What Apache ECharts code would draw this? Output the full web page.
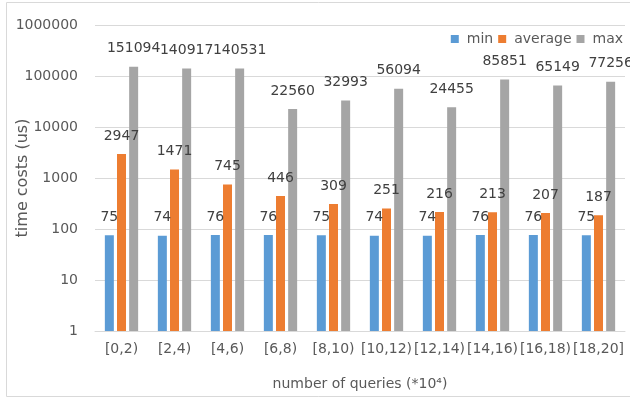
<!DOCTYPE html>
<html><head><meta charset="utf-8">
<script src="https://cdn.jsdelivr.net/npm/echarts@6/dist/echarts.min.js"></script>
<style>html,body{margin:0;padding:0;background:#fff}#c{width:630px;height:401px}</style>
</head><body><div id="c"></div>
<script>
const categories = ['[0,2)','[2,4)','[4,6)','[6,8)','[8,10)','[10,12)','[12,14)','[14,16)','[16,18)','[18,20]'];
const minValues = [75,74,76,76,75,74,74,76,76,75];
const avgValues = [2947,1471,745,446,309,251,216,213,207,187];
const maxValues = [151094,140917,140531,22560,32993,56094,24455,85851,65149,77256];
const font = '"DejaVu Sans", sans-serif';
const chart = echarts.init(document.getElementById('c'), null, {renderer:'canvas'});
const lbl = {show:true, position:'top', distance:11, color:'#404040', fontSize:14, fontFamily:font};
chart.setOption({
  animation:false,
  textStyle:{fontFamily:font},
  graphic:[{type:'rect', shape:{x:6.5,y:2.5,width:640,height:394}, style:{fill:'none', stroke:'#d9d9d9', lineWidth:1}, z:-1}],
  grid:{left:95, right:5, top:25, bottom:70, outerBoundsMode:'none', containLabel:false},
  legend:{top:27, right:2, itemWidth:8, itemHeight:8, itemGap:5, icon:'rect',
    textStyle:{color:'#595959', fontSize:14, fontFamily:font, padding:[0,0,0,3]},
    data:['min','average','max']},
  xAxis:{type:'category', data:categories,
    axisLine:{lineStyle:{color:'#d9d9d9'}}, axisTick:{show:false},
    axisLabel:{color:'#595959', fontSize:14, margin:11, interval:0, fontFamily:font},
    name:'number of queries (*10⁴)', nameLocation:'middle', nameGap:46, nameMoveOverlap:false,
    nameTextStyle:{color:'#595959', fontSize:14, fontFamily:font}},
  yAxis:{type:'log', logBase:10, min:1, max:1000000,
    axisLine:{show:false}, axisTick:{show:false},
    splitLine:{lineStyle:{color:'#d9d9d9'}},
    axisLabel:{color:'#595959', fontSize:14, margin:17, fontFamily:font, formatter:v=>String(Math.round(v))},
    name:'time costs (us)', nameLocation:'middle', nameGap:64, nameMoveOverlap:false,
    nameTextStyle:{color:'#595959', fontSize:16, fontFamily:font}},
  series:[
    {name:'min', type:'bar', data:minValues, barWidth:9, barGap:'35%', itemStyle:{color:'#5B9BD5'}, label:lbl},
    {name:'average', type:'bar', data:avgValues, barWidth:9, barGap:'35%', itemStyle:{color:'#ED7D31'}, label:lbl},
    {name:'max', type:'bar', data:maxValues, barWidth:9, barGap:'35%', itemStyle:{color:'#A5A5A5'}, label:lbl}
  ]
});
</script></body></html>
